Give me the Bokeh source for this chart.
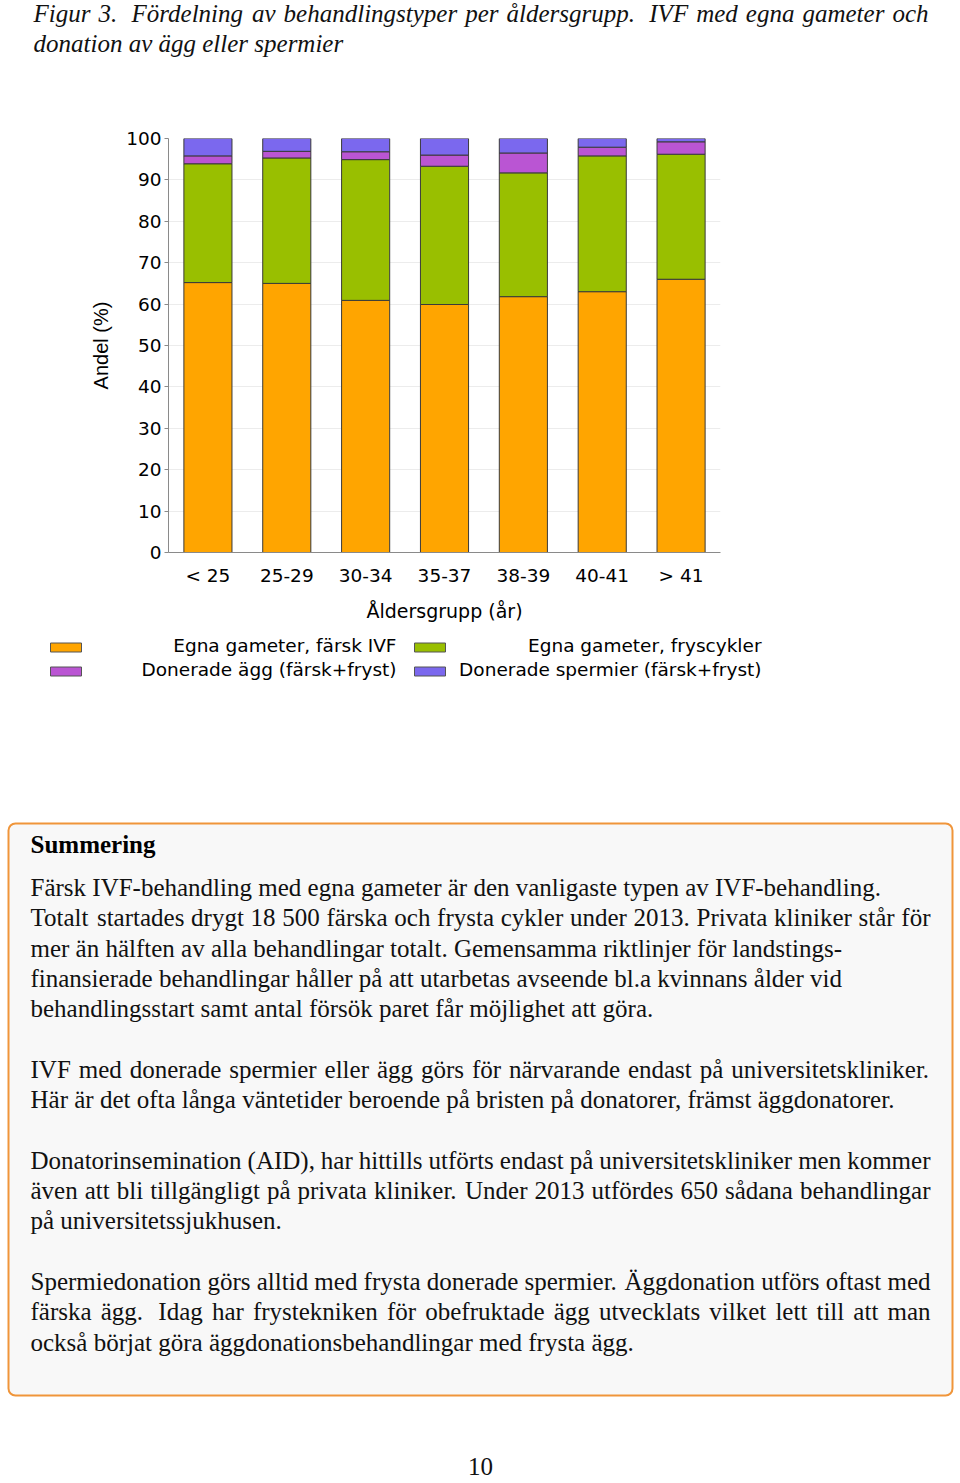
import re
from bokeh.plotting import figure
from bokeh.models import Range1d, FactorRange, FixedTicker, ColumnDataSource
from bokeh.layouts import column
from bokeh.embed import file_html
from bokeh.resources import INLINE
from bokeh.core.properties import value

# ---------------- data ----------------
categories = ["< 25", "25-29", "30-34", "35-37", "38-39", "40-41", "> 41"]
egna_farsk = [65.2, 65.0, 60.9, 59.9, 61.8, 63.0, 66.0]
egna_frys = [28.7, 30.3, 34.0, 33.4, 29.9, 32.8, 30.2]
donerade_agg = [1.9, 1.6, 1.9, 2.7, 4.8, 2.1, 3.0]
donerade_spermier = [4.2, 3.1, 3.2, 4.0, 3.5, 2.1, 0.8]
series_labels = ["Egna gameter, färsk IVF", "Egna gameter, fryscykler",
                 "Donerade ägg (färsk+fryst)", "Donerade spermier (färsk+fryst)"]
series_colors = ["#FFA500", "#99BF00", "#BA55D3", "#7B68EE"]
y_ticks = [0, 10, 20, 30, 40, 50, 60, 70, 80, 90, 100]

caption_lines = ["Figur 3.  Fördelning av behandlingstyper per åldersgrupp.  IVF med egna gameter och",
                 "donation av ägg eller spermier"]
summary_title = "Summering"
# (text, line index, justify?)
summary_lines = [
    ("Färsk IVF-behandling med egna gameter är den vanligaste typen av IVF-behandling.", 0, False),
    ("Totalt startades drygt 18 500 färska och frysta cykler under 2013. Privata kliniker står för", 1, True),
    ("mer än hälften av alla behandlingar totalt. Gemensamma riktlinjer för landstings-", 2, False),
    ("finansierade behandlingar håller på att utarbetas avseende bl.a kvinnans ålder vid", 3, False),
    ("behandlingsstart samt antal försök paret får möjlighet att göra.", 4, False),
    ("IVF med donerade spermier eller ägg görs för närvarande endast på universitetskliniker.", 6, True),
    ("Här är det ofta långa väntetider beroende på bristen på donatorer, främst äggdonatorer.", 7, False),
    ("Donatorinsemination (AID), har hittills utförts endast på universitetskliniker men kommer", 9, True),
    ("även att bli tillgängligt på privata kliniker. Under 2013 utfördes 650 sådana behandlingar", 10, True),
    ("på universitetssjukhusen.", 11, False),
    ("Spermiedonation görs alltid med frysta donerade spermier. Äggdonation utförs oftast med", 13, True),
    ("färska ägg.  Idag har frystekniken för obefruktade ägg utvecklats vilket lett till att man", 14, True),
    ("också börjat göra äggdonationsbehandlingar med frysta ägg.", 15, False),
]
page_number = "10"

# ---------------- font metrics (Times compatible) ----------------
REG = dict(a=444, b=500, c=444, d=500, e=444, f=333, g=500, h=500, i=278, j=278, k=500, l=278,
           m=778, n=500, o=500, p=500, q=500, r=333, s=389, t=278, u=500, v=500, w=722, x=500,
           y=500, z=444)
REG.update({"å": 444, "ä": 444, "ö": 500, "A": 722, "B": 667, "C": 667, "D": 722, "E": 611,
            "F": 556, "G": 722, "H": 722, "I": 333, "J": 389, "K": 722, "L": 611, "M": 889,
            "N": 722, "O": 722, "P": 556, "Q": 722, "R": 667, "S": 556, "T": 611, "U": 722,
            "V": 722, "W": 944, "X": 722, "Y": 722, "Z": 611, "Å": 722, "Ä": 722, "Ö": 722,
            " ": 250, ".": 250, ",": 250, "-": 333, "(": 333, ")": 333})
ITA = dict(a=500, b=500, c=444, d=500, e=444, f=278, g=500, h=500, i=278, j=278, k=444, l=278,
           m=722, n=500, o=500, p=500, q=500, r=389, s=389, t=278, u=500, v=444, w=667, x=444,
           y=444, z=389)
ITA.update({"å": 500, "ä": 500, "ö": 500, "F": 611, "I": 333, "V": 611, " ": 250, ".": 250})


def tw(s, table, size):
    return sum(table.get(ch, 500) for ch in s) / 1000.0 * size


def justify(line, x0, x1, baseline, table, size, xs, ys, ts):
    parts = re.split(r"( +)", line)
    words = parts[0::2]
    gaps = [len(g) for g in parts[1::2]]
    natural = sum(tw(w, table, size) for w in words) + sum(g * table[" "] / 1000.0 * size for g in gaps)
    extra = (x1 - x0 - natural) / max(len(gaps), 1)
    x = x0
    for i, w in enumerate(words):
        xs.append(x)
        ys.append(baseline)
        ts.append(w)
        x += tw(w, table, size)
        if i < len(gaps):
            x += gaps[i] * table[" "] / 1000.0 * size + extra


W = 960
SERIF = "Liberation Serif"
SANS = "DejaVu Sans"

# ---------------- caption figure (page y 0..88) ----------------
cap = figure(width=W, height=88, x_range=Range1d(0, 960), y_range=Range1d(88, 0),
             x_axis_type=None, y_axis_type=None, output_backend="svg", toolbar_location=None,
             min_border=0, outline_line_color=None, frame_align=False)
cx, cy, ct = [], [], []
justify(caption_lines[0], 33, 928, 13, ITA, 25, cx, cy, ct)
cx.append(33); cy.append(43); ct.append(caption_lines[1])
cap.text(x=cx, y=cy, text=ct, text_font=value(SERIF), text_font_style="italic",
         text_font_size=value("25px"), text_align="left", text_baseline="alphabetic",
         text_color="#111111")

# ---------------- chart figure (page y 88..625) ----------------
src = ColumnDataSource(dict(cat=categories, s1=egna_farsk, s2=egna_frys, s3=donerade_agg,
                            s4=donerade_spermier))
chart = figure(width=W, height=537, x_range=FactorRange(*categories), y_range=Range1d(0, 100),
               output_backend="svg", toolbar_location=None,
               min_border_left=168, min_border_right=240, min_border_top=50, min_border_bottom=73,
               outline_line_color=None, frame_align=False)
chart.vbar_stack(["s1", "s2", "s3", "s4"], x="cat", width=0.61, source=src,
                 fill_color=series_colors, line_color="#3a3a3a", line_width=1)
chart.xgrid.grid_line_color = None
chart.ygrid.grid_line_color = "#ececec"
chart.yaxis.ticker = FixedTicker(ticks=y_ticks)
chart.yaxis.minor_tick_line_color = None
chart.yaxis.major_tick_out = 4
chart.yaxis.major_tick_in = 0
chart.yaxis.major_label_standoff = 3
chart.xaxis.major_tick_out = 0
chart.xaxis.major_tick_in = 0
chart.xaxis.major_label_standoff = 12
for ax in (chart.xaxis, chart.yaxis):
    ax.axis_line_color = "#8a8a8a"
    ax.major_tick_line_color = "#8a8a8a"
    ax.major_label_text_font = SANS
    ax.major_label_text_font_size = "18.5px"
    ax.major_label_text_color = "#000000"
    ax.axis_label_text_font_style = "normal"
    ax.axis_label_text_color = "#000000"
chart.xaxis.axis_label = "Åldersgrupp (år)"
chart.xaxis.axis_label_text_font = SANS
chart.xaxis.axis_label_text_font_size = "19px"
chart.xaxis.axis_label_standoff = 11
chart.yaxis.axis_label = "Andel (%)"
chart.yaxis.axis_label_text_font = "Liberation Sans"
chart.yaxis.axis_label_text_font_size = "20px"
chart.yaxis.axis_label_standoff = 11

# ---------------- bottom figure (page y 625..1477) ----------------
bot = figure(width=W, height=852, x_range=Range1d(0, 960), y_range=Range1d(1477, 625),
             x_axis_type=None, y_axis_type=None, output_backend="svg", toolbar_location=None,
             min_border=0, outline_line_color=None, frame_align=False)

# legend (2 x 2)
sw_left = [50, 414, 50, 414]
sw_y = [647, 647, 671, 671]
lab_right = [396, 761, 396, 761]
order = [0, 1, 2, 3]
bot.quad(left=sw_left, right=[v + 31 for v in sw_left],
         top=[v - 4.5 for v in sw_y], bottom=[v + 4.5 for v in sw_y],
         fill_color=[series_colors[i] for i in order], line_color="#555555", line_width=1)
bot.text(x=lab_right, y=[v - 2 for v in sw_y], text=[series_labels[i] for i in order],
         text_font=value(SANS), text_font_size=value("18.5px"), text_align="right",
         text_baseline="middle", text_color="#000000")

# summary box
bot.quad(left=[8], right=[952], top=[823], bottom=[1395], fill_color="#f8f8f8",
         line_color="#F0953A", line_width=2, border_radius=7)
bot.text(x=[30], y=[844], text=[summary_title], text_font=value(SERIF), text_font_style="bold",
         text_font_size=value("25px"), text_align="left", text_baseline="alphabetic",
         text_color="#000000")

bx, by, bt = [], [], []
for line, idx, just in summary_lines:
    base = 887 + 30.3 * idx
    if just:
        justify(line, 30, 930, base, REG, 25, bx, by, bt)
    else:
        bx.append(30); by.append(base); bt.append(line)
bot.text(x=bx, y=by, text=bt, text_font=value(SERIF), text_font_size=value("25px"),
         text_align="left", text_baseline="alphabetic", text_color="#111111")

bot.text(x=[480], y=[1466], text=[page_number], text_font=value(SERIF),
         text_font_size=value("25px"), text_align="center", text_baseline="alphabetic",
         text_color="#111111")

for f in (cap, chart, bot):
    f.background_fill_color = "white"
    f.border_fill_color = "white"

layout = column(cap, chart, bot, spacing=0)
open("out.html", "w").write(file_html(layout, INLINE))
